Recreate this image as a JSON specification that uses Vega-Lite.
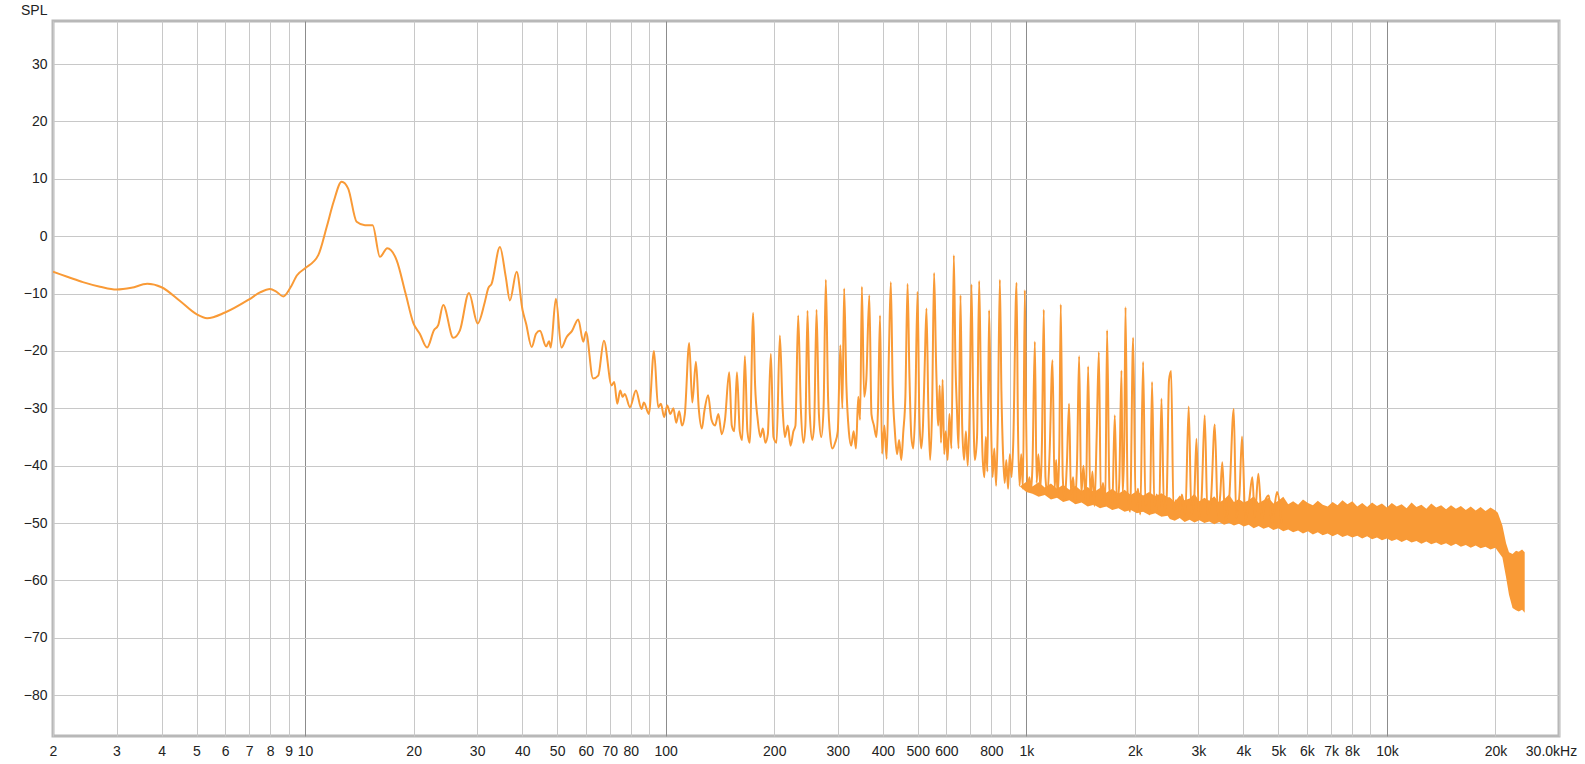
{
  "$schema": "https://vega.github.io/schema/vega-lite/v6.json",
  "width": 1506,
  "height": 715,
  "autosize": {"type": "none"},
  "padding": {"left": 53, "top": 21, "right": 26, "bottom": 28},
  "background": "white",
  "config": {
    "view": {"stroke": "#b8b8b8", "strokeWidth": 3},
    "font": "Liberation Sans"
  },
  "datasets": {
    "trace": [
      {"f": 2, "db": -6.2}, {"f": 2.2, "db": -7.1}, {"f": 2.42, "db": -8.0}, {"f": 2.7, "db": -8.8}, {"f": 3.0, "db": -9.3}, {"f": 3.3, "db": -9.0},
      {"f": 3.65, "db": -8.3}, {"f": 4.0, "db": -8.9}, {"f": 4.5, "db": -11.3}, {"f": 5.0, "db": -13.6}, {"f": 5.35, "db": -14.3},
      {"f": 6.0, "db": -13.3}, {"f": 7.0, "db": -11.0}, {"f": 7.5, "db": -9.8}, {"f": 8.0, "db": -9.2}, {"f": 8.3, "db": -9.6},
      {"f": 8.7, "db": -10.5}, {"f": 9.1, "db": -9.0}, {"f": 9.5, "db": -6.8}, {"f": 10, "db": -5.6}, {"f": 10.88, "db": -3.3},
      {"f": 11.48, "db": 1.6}, {"f": 12.0, "db": 6.0}, {"f": 12.63, "db": 9.5}, {"f": 13.17, "db": 8.3}, {"f": 13.9, "db": 2.5},
      {"f": 14.66, "db": 1.9}, {"f": 15.39, "db": 1.9}, {"f": 16.13, "db": -3.6}, {"f": 16.9, "db": -2.1}, {"f": 17.95, "db": -4.2},
      {"f": 19.0, "db": -10}, {"f": 19.98, "db": -15.2}, {"f": 20.8, "db": -17}, {"f": 21.8, "db": -19.4}, {"f": 22.77, "db": -16.4},
      {"f": 23.4, "db": -15.5}, {"f": 24.16, "db": -12.0}, {"f": 25.76, "db": -17.7}, {"f": 26.88, "db": -16.4}, {"f": 28.47, "db": -9.9},
      {"f": 30.1, "db": -15.2}, {"f": 31.5, "db": -11.5}, {"f": 32.2, "db": -9.1}, {"f": 32.9, "db": -8.3}, {"f": 34.7, "db": -1.9},
      {"f": 36.0, "db": -7}, {"f": 36.98, "db": -11.2}, {"f": 38.6, "db": -6.2}, {"f": 40.1, "db": -12.9}, {"f": 41.0, "db": -15.2},
      {"f": 42.5, "db": -19.3}, {"f": 43.7, "db": -17.0}, {"f": 44.8, "db": -16.5}, {"f": 46.6, "db": -19.2}, {"f": 47.5, "db": -18.3},
      {"f": 48.0, "db": -19.4}, {"f": 49.6, "db": -10.9}, {"f": 51.4, "db": -19.4}, {"f": 53.1, "db": -17.6}, {"f": 55.0, "db": -16.5},
      {"f": 57.2, "db": -14.5}, {"f": 59.1, "db": -18.4}, {"f": 60.1, "db": -16.7}, {"f": 62.9, "db": -24.8}, {"f": 65.0, "db": -24.3},
      {"f": 67.4, "db": -18.2}, {"f": 70.8, "db": -26.0}, {"f": 72, "db": -25.4}, {"f": 73.4, "db": -29.2}, {"f": 74.8, "db": -26.9},
      {"f": 76, "db": -28}, {"f": 77, "db": -27.5}, {"f": 79.6, "db": -29.8}, {"f": 82.7, "db": -26.9}, {"f": 85.7, "db": -30.1},
      {"f": 87, "db": -29}, {"f": 89.8, "db": -31.0}, {"f": 92.8, "db": -20.0}, {"f": 95.3, "db": -29.8}, {"f": 97, "db": -29.2},
      {"f": 99, "db": -31.5}, {"f": 101, "db": -29.5}, {"f": 103, "db": -31}, {"f": 105, "db": -30}, {"f": 107, "db": -32.5},
      {"f": 109, "db": -30.5}, {"f": 111, "db": -33}, {"f": 113, "db": -31}, {"f": 116.2, "db": -18.6}, {"f": 118.5, "db": -29},
      {"f": 121.3, "db": -21.9}, {"f": 123.5, "db": -30}, {"f": 126, "db": -33.5}, {"f": 128, "db": -30.5}, {"f": 131.1, "db": -27.7},
      {"f": 134, "db": -32}, {"f": 137, "db": -33}, {"f": 140, "db": -31}, {"f": 143, "db": -34.5}, {"f": 146, "db": -32},
      {"f": 150, "db": -23.7}, {"f": 152.5, "db": -33}, {"f": 155, "db": -34}, {"f": 157.6, "db": -23.7}, {"f": 160.5, "db": -34},
      {"f": 163, "db": -35.5}, {"f": 165.8, "db": -20.9}, {"f": 168.5, "db": -34}, {"f": 171, "db": -36}, {"f": 174.8, "db": -13.4},
      {"f": 177, "db": -26}, {"f": 180, "db": -32}, {"f": 183, "db": -35}, {"f": 186, "db": -33.5}, {"f": 189, "db": -36},
      {"f": 192, "db": -34.5}, {"f": 195.7, "db": -20.5}, {"f": 199, "db": -35}, {"f": 203, "db": -36}, {"f": 207.3, "db": -17.3},
      {"f": 211, "db": -30}, {"f": 214, "db": -35}, {"f": 218, "db": -33}, {"f": 222, "db": -36.5}, {"f": 226, "db": -34},
      {"f": 229, "db": -33}, {"f": 233, "db": -13.8}, {"f": 237, "db": -30}, {"f": 241, "db": -36}, {"f": 244, "db": -33},
      {"f": 247.3, "db": -13.0}, {"f": 251, "db": -31}, {"f": 255, "db": -35.5}, {"f": 258, "db": -33}, {"f": 262, "db": -12.8},
      {"f": 266, "db": -31}, {"f": 270, "db": -35}, {"f": 274, "db": -30}, {"f": 278, "db": -7.6}, {"f": 282, "db": -28},
      {"f": 286, "db": -35}, {"f": 290, "db": -37}, {"f": 295, "db": -36}, {"f": 300, "db": -34}, {"f": 305, "db": -19},
      {"f": 309, "db": -30}, {"f": 312.5, "db": -9.1}, {"f": 317, "db": -26}, {"f": 322, "db": -34}, {"f": 327, "db": -36.5},
      {"f": 332, "db": -34}, {"f": 337, "db": -37}, {"f": 342, "db": -28}, {"f": 346, "db": -32}, {"f": 350, "db": -8.8},
      {"f": 355, "db": -28}, {"f": 360, "db": -25}, {"f": 367, "db": -10.3}, {"f": 372, "db": -31}, {"f": 378, "db": -33},
      {"f": 384, "db": -35}, {"f": 388, "db": -30}, {"f": 393, "db": -13.8}, {"f": 398, "db": -37.9}, {"f": 404, "db": -33},
      {"f": 410, "db": -38.8}, {"f": 416, "db": -20}, {"f": 421, "db": -8.0}, {"f": 426, "db": -26}, {"f": 432, "db": -34},
      {"f": 438, "db": -38}, {"f": 444, "db": -35.5}, {"f": 450, "db": -39}, {"f": 456, "db": -34}, {"f": 462, "db": -28},
      {"f": 468.5, "db": -8.3}, {"f": 474, "db": -24}, {"f": 480, "db": -35}, {"f": 486, "db": -37}, {"f": 492, "db": -30},
      {"f": 499.4, "db": -9.7}, {"f": 505, "db": -31}, {"f": 511, "db": -37}, {"f": 517, "db": -33}, {"f": 523, "db": -22},
      {"f": 528.6, "db": -12.6}, {"f": 535, "db": -30}, {"f": 541, "db": -39}, {"f": 548, "db": -30}, {"f": 555, "db": -6.4},
      {"f": 562, "db": -22}, {"f": 570, "db": -33}, {"f": 575, "db": -26}, {"f": 580, "db": -36}, {"f": 586, "db": -25},
      {"f": 592, "db": -38}, {"f": 598, "db": -34}, {"f": 605, "db": -39}, {"f": 612, "db": -31}, {"f": 620, "db": -37},
      {"f": 629.5, "db": -3.3}, {"f": 636, "db": -22}, {"f": 642, "db": -30}, {"f": 649, "db": -37}, {"f": 656.9, "db": -10.3},
      {"f": 664, "db": -33}, {"f": 672, "db": -39}, {"f": 680, "db": -34}, {"f": 688, "db": -40}, {"f": 696, "db": -31},
      {"f": 704.6, "db": -8.4}, {"f": 712, "db": -28}, {"f": 720, "db": -39}, {"f": 730, "db": -35}, {"f": 740, "db": -7.8},
      {"f": 748, "db": -25}, {"f": 756, "db": -38}, {"f": 765, "db": -42}, {"f": 772, "db": -35}, {"f": 780, "db": -41},
      {"f": 788.5, "db": -12.9}, {"f": 797, "db": -30}, {"f": 806, "db": -42}, {"f": 815, "db": -37}, {"f": 825, "db": -43.5},
      {"f": 834, "db": -32}, {"f": 844.6, "db": -7.6}, {"f": 853, "db": -27}, {"f": 862, "db": -38}, {"f": 871, "db": -43},
      {"f": 880, "db": -39}, {"f": 890, "db": -44}, {"f": 900, "db": -38}, {"f": 910, "db": -42}, {"f": 920, "db": -36},
      {"f": 939.5, "db": -8.1}, {"f": 948, "db": -33}, {"f": 958, "db": -43.5}, {"f": 968, "db": -38}, {"f": 979, "db": -44},
      {"f": 990.5, "db": -9.4}, {"f": 998, "db": -30}, {"f": 1008, "db": -44.3}, {"f": 1020, "db": -42}, {"f": 1030, "db": -44.5},
      {"f": 1040, "db": -40}, {"f": 1056, "db": -18.4}, {"f": 1068, "db": -43}, {"f": 1080, "db": -38}, {"f": 1095, "db": -44},
      {"f": 1105, "db": -36}, {"f": 1118, "db": -12.8}, {"f": 1130, "db": -42}, {"f": 1145, "db": -45}, {"f": 1160, "db": -38},
      {"f": 1182, "db": -21.6}, {"f": 1198, "db": -44}, {"f": 1210, "db": -39}, {"f": 1222, "db": -45.5}, {"f": 1235, "db": -36},
      {"f": 1246, "db": -11.9}, {"f": 1262, "db": -42}, {"f": 1278, "db": -46}, {"f": 1295, "db": -40}, {"f": 1314, "db": -29.2},
      {"f": 1330, "db": -45}, {"f": 1348, "db": -42}, {"f": 1365, "db": -46.5}, {"f": 1383, "db": -39}, {"f": 1401, "db": -20.9},
      {"f": 1420, "db": -45}, {"f": 1440, "db": -40}, {"f": 1462, "db": -46.5}, {"f": 1484, "db": -22.7}, {"f": 1505, "db": -46},
      {"f": 1525, "db": -41}, {"f": 1545, "db": -47}, {"f": 1567, "db": -35}, {"f": 1589, "db": -20.2}, {"f": 1610, "db": -46},
      {"f": 1632, "db": -43}, {"f": 1655, "db": -47}, {"f": 1675, "db": -16.4}, {"f": 1700, "db": -44}, {"f": 1730, "db": -47.5},
      {"f": 1759, "db": -31.2}, {"f": 1785, "db": -47}, {"f": 1810, "db": -43}, {"f": 1836, "db": -23.4}, {"f": 1850, "db": -45},
      {"f": 1870, "db": -35}, {"f": 1884, "db": -12.4}, {"f": 1910, "db": -45}, {"f": 1940, "db": -48}, {"f": 1978, "db": -17.7},
      {"f": 2010, "db": -47}, {"f": 2040, "db": -44}, {"f": 2070, "db": -48.5}, {"f": 2108, "db": -21.9}, {"f": 2140, "db": -47},
      {"f": 2170, "db": -45}, {"f": 2200, "db": -48.5}, {"f": 2232, "db": -25.4}, {"f": 2265, "db": -47}, {"f": 2300, "db": -45},
      {"f": 2335, "db": -48.5}, {"f": 2370, "db": -28.3}, {"f": 2410, "db": -48}, {"f": 2450, "db": -45.5}, {"f": 2487, "db": -25.1},
      {"f": 2521, "db": -23.5}, {"f": 2560, "db": -48}, {"f": 2600, "db": -46}, {"f": 2650, "db": -49}, {"f": 2700, "db": -45},
      {"f": 2760, "db": -48.5}, {"f": 2820, "db": -29.7}, {"f": 2870, "db": -48.5}, {"f": 2920, "db": -46}, {"f": 2964, "db": -35.3},
      {"f": 3010, "db": -49}, {"f": 3060, "db": -46}, {"f": 3124, "db": -31.2}, {"f": 3180, "db": -48.5}, {"f": 3250, "db": -46},
      {"f": 3331, "db": -32.8}, {"f": 3400, "db": -49}, {"f": 3450, "db": -45}, {"f": 3495, "db": -39.4}, {"f": 3560, "db": -49.5},
      {"f": 3650, "db": -46}, {"f": 3760, "db": -30.1}, {"f": 3820, "db": -49}, {"f": 3900, "db": -45}, {"f": 3965, "db": -34.9},
      {"f": 4050, "db": -49.5}, {"f": 4150, "db": -46}, {"f": 4234, "db": -42}, {"f": 4300, "db": -49}, {"f": 4400, "db": -41.4},
      {"f": 4500, "db": -49.5}, {"f": 4600, "db": -46}, {"f": 4705, "db": -45.2}, {"f": 4800, "db": -50}, {"f": 4958, "db": -44.6},
      {"f": 5100, "db": -50}
    ],
    "band": [
      {"f": 960, "db": -43.6, "lo": -43.6}, {"f": 1000, "db": -42.8, "lo": -44.6}, {"f": 1040, "db": -43.6, "lo": -44.9},
      {"f": 1082, "db": -42.9, "lo": -45.4}, {"f": 1125, "db": -43.8, "lo": -45.1}, {"f": 1170, "db": -43.1, "lo": -45.9},
      {"f": 1217, "db": -44.0, "lo": -45.6}, {"f": 1265, "db": -43.3, "lo": -46.3}, {"f": 1316, "db": -44.2, "lo": -46.0},
      {"f": 1369, "db": -43.5, "lo": -46.7}, {"f": 1423, "db": -44.4, "lo": -46.4}, {"f": 1480, "db": -43.7, "lo": -47.1},
      {"f": 1540, "db": -44.6, "lo": -46.8}, {"f": 1601, "db": -43.9, "lo": -47.4}, {"f": 1665, "db": -44.7, "lo": -47.1},
      {"f": 1732, "db": -44.0, "lo": -47.7}, {"f": 1801, "db": -44.9, "lo": -47.4}, {"f": 1873, "db": -44.2, "lo": -48.0},
      {"f": 1948, "db": -45.1, "lo": -47.7}, {"f": 2026, "db": -44.4, "lo": -48.3}, {"f": 2107, "db": -45.2, "lo": -48.0},
      {"f": 2191, "db": -44.6, "lo": -48.6}, {"f": 2279, "db": -45.3, "lo": -48.3}, {"f": 2370, "db": -44.8, "lo": -48.9},
      {"f": 2465, "db": -45.5, "lo": -48.7},
      {"f": 2500, "db": -45.5, "lo": -49.3}, {"f": 2580, "db": -46.3, "lo": -49.6}, {"f": 2663, "db": -45.2, "lo": -49.1},
      {"f": 2748, "db": -46.0, "lo": -49.8}, {"f": 2836, "db": -45.7, "lo": -49.4}, {"f": 2926, "db": -44.9, "lo": -49.9},
      {"f": 3020, "db": -46.2, "lo": -49.5}, {"f": 3117, "db": -45.6, "lo": -50.0}, {"f": 3216, "db": -46.1, "lo": -49.7},
      {"f": 3319, "db": -45.3, "lo": -50.2}, {"f": 3426, "db": -46.4, "lo": -49.8}, {"f": 3535, "db": -45.9, "lo": -50.3},
      {"f": 3648, "db": -45.0, "lo": -50.0}, {"f": 3765, "db": -46.3, "lo": -50.4}, {"f": 3886, "db": -45.8, "lo": -50.1},
      {"f": 4010, "db": -46.4, "lo": -50.6}, {"f": 4138, "db": -46.0, "lo": -50.3}, {"f": 4271, "db": -45.3, "lo": -50.9},
      {"f": 4407, "db": -46.5, "lo": -50.5}, {"f": 4548, "db": -46.0, "lo": -51.0}, {"f": 4694, "db": -45.6, "lo": -50.7},
      {"f": 4844, "db": -46.6, "lo": -51.2}, {"f": 4999, "db": -46.1, "lo": -50.9}, {"f": 5159, "db": -45.4, "lo": -51.4},
      {"f": 5324, "db": -46.7, "lo": -51.1}, {"f": 5494, "db": -46.2, "lo": -51.6}, {"f": 5670, "db": -46.8, "lo": -51.3},
      {"f": 5851, "db": -45.9, "lo": -51.8}, {"f": 6039, "db": -46.5, "lo": -51.4}, {"f": 6232, "db": -46.9, "lo": -52.0},
      {"f": 6431, "db": -46.1, "lo": -51.6}, {"f": 6637, "db": -46.8, "lo": -52.1}, {"f": 6849, "db": -47.1, "lo": -51.8},
      {"f": 7068, "db": -46.3, "lo": -52.3}, {"f": 7294, "db": -46.9, "lo": -51.9}, {"f": 7528, "db": -46.0, "lo": -52.4},
      {"f": 7769, "db": -46.7, "lo": -52.1}, {"f": 8017, "db": -46.2, "lo": -52.5}, {"f": 8274, "db": -47.1, "lo": -52.2},
      {"f": 8539, "db": -46.5, "lo": -52.7}, {"f": 8812, "db": -47.2, "lo": -52.3}, {"f": 9094, "db": -46.4, "lo": -52.8},
      {"f": 9385, "db": -47.0, "lo": -52.5}, {"f": 9685, "db": -46.6, "lo": -53.0}, {"f": 9995, "db": -47.3, "lo": -52.7},
      {"f": 10315, "db": -46.5, "lo": -53.1}, {"f": 10645, "db": -47.1, "lo": -52.8}, {"f": 10986, "db": -46.7, "lo": -53.3},
      {"f": 11337, "db": -47.4, "lo": -52.9}, {"f": 11700, "db": -46.4, "lo": -53.4}, {"f": 12074, "db": -47.2, "lo": -53.1},
      {"f": 12461, "db": -46.8, "lo": -53.6}, {"f": 12860, "db": -47.5, "lo": -53.2}, {"f": 13271, "db": -46.6, "lo": -53.7},
      {"f": 13696, "db": -47.3, "lo": -53.4}, {"f": 14134, "db": -46.9, "lo": -53.8}, {"f": 14586, "db": -47.6, "lo": -53.5},
      {"f": 15053, "db": -46.9, "lo": -54.0}, {"f": 15535, "db": -47.5, "lo": -53.6}, {"f": 16032, "db": -47.0, "lo": -54.1},
      {"f": 16545, "db": -47.7, "lo": -53.8}, {"f": 17075, "db": -47.1, "lo": -54.3}, {"f": 17621, "db": -47.8, "lo": -53.9},
      {"f": 18185, "db": -47.2, "lo": -54.4}, {"f": 18767, "db": -47.9, "lo": -54.1}, {"f": 19367, "db": -47.3, "lo": -54.6},
      {"f": 19987, "db": -47.8, "lo": -54.3}, {"f": 20300, "db": -48.2, "lo": -54.9},
      {"f": 20900, "db": -50.4, "lo": -56.0}, {"f": 21400, "db": -53.5, "lo": -59.5}, {"f": 21800, "db": -55.1, "lo": -62.5},
      {"f": 22300, "db": -55.4, "lo": -64.8}, {"f": 22800, "db": -54.8, "lo": -65.2}, {"f": 23200, "db": -55.0, "lo": -65.4},
      {"f": 23700, "db": -54.6, "lo": -65.1}, {"f": 24100, "db": -55.1, "lo": -65.6}
    ]
  },
  "encoding": {
    "x": {
      "field": "f",
      "type": "quantitative",
      "scale": {"type": "log", "domain": [2, 30000], "nice": false},
      "axis": {
        "title": null,
        "domain": false,
        "ticks": false,
        "labelOverlap": false,
        "labelBound": false,
        "labelFlush": false,
        "labelPadding": 8,
        "labelFontSize": 14,
        "labelColor": "#222222",
        "labelFont": "Liberation Sans",
        "values": [2, 3, 4, 5, 6, 7, 8, 9, 10, 20, 30, 40, 50, 60, 70, 80, 90, 100, 200, 300, 400, 500, 600, 700, 800, 900, 1000, 2000, 3000, 4000, 5000, 6000, 7000, 8000, 9000, 10000, 20000, 30000],
        "labelExpr": "datum.value == 90 || datum.value == 700 || datum.value == 900 || datum.value == 9000 ? '' : datum.value >= 30000 ? '30.0kHz' : datum.value >= 1000 ? (datum.value / 1000) + 'k' : '' + datum.value",
        "labelOffset": {"condition": {"test": "datum.value >= 30000", "value": -8}, "value": 0},
        "gridColor": {"condition": {"test": "datum.value == 10 || datum.value == 100 || datum.value == 1000 || datum.value == 10000", "value": "#8c8c8c"}, "value": "#c8c8c8"},
        "gridWidth": 1,
        "gridOpacity": 1
      }
    },
    "y": {
      "field": "db",
      "type": "quantitative",
      "scale": {"domain": [-87.1, 37.5], "nice": false, "zero": false},
      "axis": {
        "title": "SPL",
        "titleAngle": 0,
        "titleX": -6,
        "titleY": -7,
        "titleAlign": "right",
        "titleBaseline": "alphabetic",
        "titleFontWeight": "normal",
        "titleFontSize": 14,
        "titleColor": "#222222",
        "titleFont": "Liberation Sans",
        "domain": false,
        "ticks": false,
        "labelPadding": 6,
        "labelFontSize": 14,
        "labelColor": "#222222",
        "labelFont": "Liberation Sans",
        "values": [-80, -70, -60, -50, -40, -30, -20, -10, 0, 10, 20, 30],
        "gridColor": "#c8c8c8",
        "gridWidth": 1,
        "gridOpacity": 1
      }
    }
  },
  "layer": [
    {
      "data": {"name": "band"},
      "mark": {"type": "area", "color": "#f99a36", "opacity": 1, "clip": true},
      "encoding": {"y2": {"field": "lo"}}
    },
    {
      "data": {"name": "trace"},
      "mark": {"type": "line", "color": "#f99a36", "strokeWidth": 2, "interpolate": "monotone", "clip": true}
    }
  ]
}
